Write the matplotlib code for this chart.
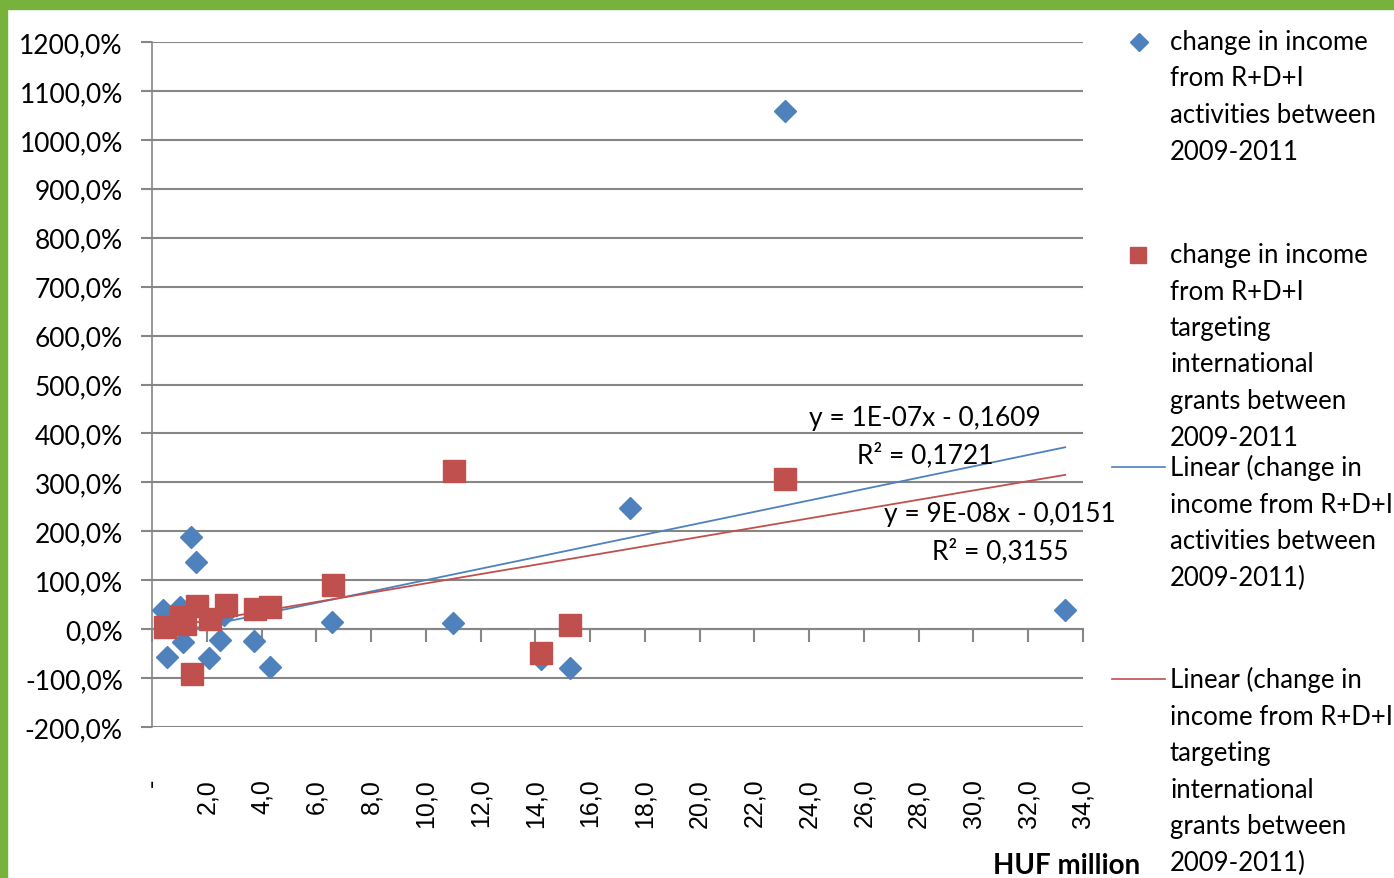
import matplotlib
matplotlib.use('Agg')
import matplotlib.pyplot as plt
from matplotlib.lines import Line2D
from matplotlib.patches import Rectangle
from matplotlib.ticker import FuncFormatter
import numpy as np

# income from R+D+I activities (HUF million) vs change 2009-2011 (%)
blue_x = [0.40, 1.02, 1.43, 1.61, 0.55, 1.13, 2.08, 2.49, 2.63, 3.73, 4.31,
          6.58, 11.00, 14.19, 15.28, 17.44, 23.11, 33.35]
blue_y = [39, 45, 188, 137, -57, -27, -59, -22, 29, -25, -78,
          14, 12, -61, -80, 247, 1059, 39]

# targeting international grants
red_x = [0.48, 1.06, 1.21, 1.65, 2.12, 2.71, 3.77, 4.31, 1.46, 6.62,
         11.04, 14.19, 15.28, 23.11]
red_y = [4, 25, 10, 47, 20, 49, 41, 45, -92, 90,
         323, -49, 8, 307]

# trendlines as shown by Excel (slope in % per HUF million, intercept in %)
blue_fit = (11.63, -16.09)
red_fit = (9.50, -1.51)
blue_eq = 'y = 1E-07x - 0,1609\nR² = 0,1721'
red_eq = 'y = 9E-08x - 0,0151\nR² = 0,3155'

x_ticks = list(range(0, 35, 2))
y_ticks = list(range(-200, 1201, 100))

blue_label = 'change in income\nfrom R+D+I\nactivities between\n2009-2011'
red_label = 'change in income\nfrom R+D+I\ntargeting\ninternational\ngrants between\n2009-2011'
blue_line_label = 'Linear (change in\nincome from R+D+I\nactivities between\n2009-2011)'
red_line_label = 'Linear (change in\nincome from R+D+I\ntargeting\ninternational\ngrants between\n2009-2011)'

BLUE = '#4F81BD'
RED = '#C0504D'
GRID = '#868686'
W, H = 1394, 879

plt.rcParams['font.family'] = ['Lato', 'DejaVu Sans']

fig = plt.figure(figsize=(W / 100, H / 100), dpi=100)
ax = fig.add_axes([152 / W, 1 - 728 / H, (1083 - 152) / W, (728 - 43) / H])

# trendlines
tx = np.array([min(blue_x), max(blue_x)])
ax.plot(tx, blue_fit[0] * tx + blue_fit[1], color=BLUE, lw=1.3, zorder=4)
ax.plot(tx, red_fit[0] * tx + red_fit[1], color=RED, lw=1.3, zorder=4)

ax.plot(blue_x, blue_y, 'D', color=BLUE, ms=11.5, mec=BLUE, zorder=3)
ax.plot(red_x, red_y, 's', color=RED, ms=15.5, mec=RED, zorder=5)

ax.set_xlim(0, 34)
ax.set_ylim(-200, 1200)
ax.set_yticks(y_ticks)
ax.set_xticks(x_ticks)
ax.yaxis.set_major_formatter(FuncFormatter(lambda v, p: f'{v:.1f}'.replace('.', ',') + '%'))
ax.xaxis.set_major_formatter(FuncFormatter(lambda v, p: '-' if v == 0 else f'{v:.1f}'.replace('.', ',')))
ax.grid(axis='y', color=GRID, lw=1.5)
ax.set_axisbelow(True)

for s in ['top', 'right']:
    ax.spines[s].set_visible(False)
ax.spines['left'].set_color(GRID)
ax.spines['left'].set_linewidth(1.2)
ax.spines['bottom'].set_position(('data', 0))
ax.spines['bottom'].set_color(GRID)
ax.spines['bottom'].set_linewidth(1.5)

ax.tick_params(axis='y', length=8, width=1.5, color=GRID, labelsize=19, pad=13)
ax.tick_params(axis='x', length=9, width=1.5, color=GRID, pad=98, direction='out')
for lab in ax.get_xticklabels():
    lab.set_rotation(90)
    lab.set_fontfamily('Liberation Sans')
    lab.set_fontsize(18)

# equations, placed in pixel positions
fig.text(925 / W, 1 - 437 / H, blue_eq, fontsize=19, ha='center', va='center',
         linespacing=1.55, zorder=6)
fig.text(1000 / W, 1 - 533 / H, red_eq, fontsize=19, ha='center', va='center',
         linespacing=1.55, zorder=6)

fig.text(1067 / W, 1 - 866 / H, 'HUF million', fontsize=20, fontweight='bold',
         ha='center', va='center')

# legend drawn by hand to keep Excel's layout
def leg_text(y_px, txt):
    fig.text(1170 / W, 1 - (y_px - 13) / H, txt, fontsize=18.5, ha='left', va='top',
             linespacing=1.575)

fig.add_artist(Line2D([1139 / W], [1 - 43 / H], marker='D', color=BLUE, ms=9,
                      transform=fig.transFigure))
leg_text(43, blue_label)
fig.add_artist(Line2D([1138 / W], [1 - 256 / H], marker='s', color=RED, ms=12,
                      transform=fig.transFigure))
leg_text(256, red_label)
fig.add_artist(Line2D([1112 / W, 1165 / W], [1 - 468 / H] * 2, color=BLUE, lw=1.2,
                      transform=fig.transFigure))
leg_text(468, blue_line_label)
fig.add_artist(Line2D([1112 / W, 1165 / W], [1 - 680 / H] * 2, color=RED, lw=1.2,
                      transform=fig.transFigure))
leg_text(680, red_line_label)

# green frame on top and left edge
fig.add_artist(Rectangle((0, 1 - 10 / H), 1, 10 / H, color='#77B23C',
                         transform=fig.transFigure))
fig.add_artist(Rectangle((0, 0), 7 / W, 1, color='#77B23C', transform=fig.transFigure))

fig.savefig('out.png', dpi=100)
